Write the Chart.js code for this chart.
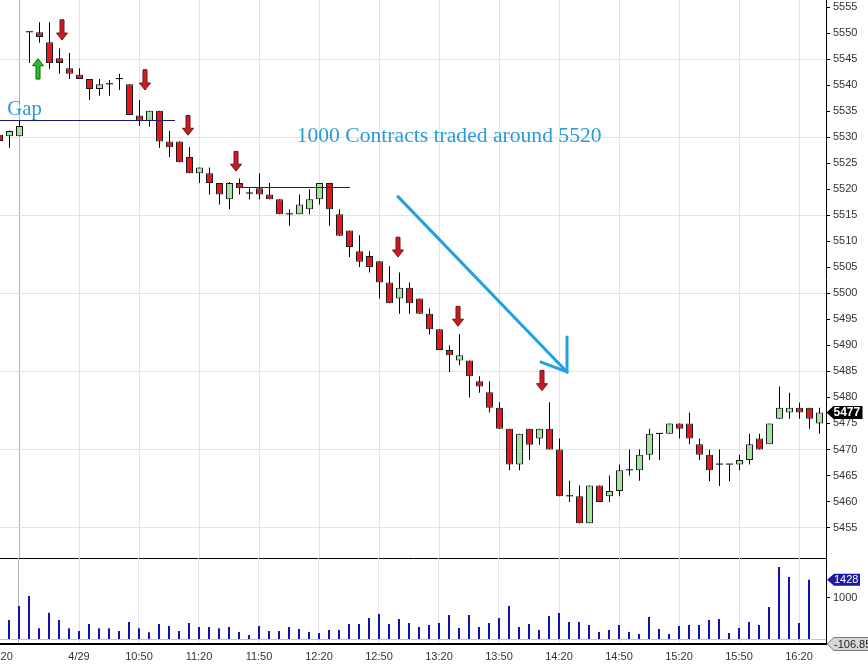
<!DOCTYPE html>
<html><head><meta charset="utf-8">
<script src="https://cdn.jsdelivr.net/npm/chart.js@4.4.1/dist/chart.umd.min.js"></script>
<style>
html,body{margin:0;padding:0;background:#fff;overflow:hidden;}
#wrap{position:relative;width:868px;height:665px;background:#fff;}
canvas{position:absolute;left:0;}
#pc{top:0;width:868px;height:560px;}
#vc{top:558px;width:868px;height:107px;}
</style></head><body>
<div id="wrap"><canvas id="pc" width="868" height="560"></canvas><canvas id="vc" width="868" height="107"></canvas></div>
<script>
// ---- 5-minute bars, index 0..82 ----
const opens  = [5530.5,5530.2,5530.2,5550.2,5550.2,5548.3,5545.2,5543.3,5542.1,5541.2,
                5539.3,5540.2,5541.2,5540.2,5534.2,5533.2,5535.1,5529.2,5529.2,5526.2,
                5523.1,5523.1,5521.2,5518.1,5521.2,5519.2,5520.2,5519.0,5518.1,5515.2,
                5515.2,5516.2,5518.1,5521.2,5515.2,5512.1,5508.1,5507.2,5506.2,5502.1,
                5499.0,5501.1,5499.0,5496.1,5493.1,5489.1,5487.1,5487.1,5483.1,5481.0,
                5478.0,5474.0,5467.1,5474.0,5472.1,5474.0,5470.0,5461.0,5461.0,5455.8,
                5463.1,5461.0,5462.0,5466.0,5466.0,5469.0,5473.0,5473.0,5475.0,5475.0,
                5471.0,5469.0,5467.1,5467.1,5467.1,5468.0,5472.1,5471.0,5475.9,5477.1,
                5478.0,5478.0,5475.0];
const highs  = [5531.0,5531.3,5533.3,5550.2,5552.1,5552.1,5547.1,5546.2,5543.3,5541.2,
                5541.2,5541.0,5542.2,5540.2,5537.2,5535.1,5535.1,5531.2,5529.2,5528.1,
                5524.2,5524.2,5521.2,5521.4,5522.1,5520.2,5523.1,5521.2,5518.1,5516.2,
                5519.0,5520.0,5521.2,5521.2,5516.2,5512.1,5511.2,5508.1,5506.2,5505.2,
                5504.0,5502.1,5499.0,5497.1,5493.1,5490.0,5492.2,5487.1,5484.1,5483.1,
                5479.1,5474.0,5473.0,5474.0,5474.0,5479.1,5472.1,5464.0,5463.1,5463.1,
                5463.1,5465.0,5467.1,5470.0,5470.0,5474.0,5473.0,5475.0,5475.0,5477.1,
                5472.1,5470.0,5470.0,5467.1,5469.0,5473.0,5473.0,5475.0,5482.1,5480.9,
                5479.0,5478.0,5478.0];
const lows   = [5528.8,5528.0,5530.2,5544.3,5548.2,5543.2,5542.2,5541.2,5541.2,5537.2,
                5538.0,5538.0,5539.1,5534.3,5532.2,5532.1,5528.0,5526.2,5525.2,5523.1,
                5521.2,5519.0,5517.1,5516.2,5519.0,5518.1,5518.1,5518.1,5515.2,5513.0,
                5515.2,5515.2,5517.1,5513.0,5511.1,5507.0,5505.1,5504.0,5499.0,5498.1,
                5496.1,5496.1,5496.1,5492.1,5489.1,5484.9,5486.2,5480.0,5480.9,5477.1,
                5474.0,5466.0,5466.0,5468.0,5470.9,5470.0,5461.0,5459.9,5455.8,5455.8,
                5459.9,5459.9,5461.0,5465.0,5464.0,5468.0,5468.0,5473.0,5472.1,5471.0,
                5468.0,5463.9,5463.0,5463.9,5466.0,5467.1,5470.0,5471.0,5475.9,5475.9,
                5475.9,5474.0,5473.0];
const closes = [5529.3,5531.2,5532.2,5550.2,5549.3,5544.3,5544.3,5542.2,5541.2,5539.3,
                5540.2,5540.2,5541.2,5534.3,5533.2,5535.1,5529.2,5528.1,5525.2,5523.1,
                5524.2,5521.2,5519.0,5521.2,5520.2,5519.2,5519.0,5518.1,5515.2,5515.2,
                5517.1,5518.1,5521.2,5516.2,5511.1,5508.9,5506.1,5505.1,5502.1,5498.1,
                5501.1,5498.1,5496.1,5493.1,5489.1,5488.1,5488.1,5484.1,5482.1,5478.0,
                5474.0,5467.1,5473.0,5470.9,5474.0,5470.0,5461.0,5461.0,5455.8,5463.1,
                5459.9,5462.0,5466.0,5466.0,5469.0,5473.0,5473.0,5475.0,5474.0,5472.1,
                5469.0,5466.0,5467.1,5467.1,5468.0,5471.0,5470.0,5475.0,5478.0,5478.0,
                5477.1,5475.9,5477.1];
const volumes = [null,466,801,1041,268,641,466,268,203,371,
                 268,268,203,419,268,172,371,323,203,395,
                 299,299,268,299,179,108,323,203,203,299,
                 251,179,155,227,227,371,371,514,610,371,
                 490,395,299,347,395,586,275,586,299,395,
                 514,801,299,371,227,562,634,419,419,347,
                 179,227,347,179,132,538,251,132,323,347,
                 347,466,490,155,275,419,347,777,1734,1495,
                 395,1428,null];

// ---- axes ----
const priceTicks = [5455,5460,5465,5470,5475,5480,5485,5490,5495,5500,5505,5510,5515,5520,5525,5530,5535,5540,5545,5550,5555];
const priceGridEvery = 15;
const PMIN = 5449.14, PMAX = 5556.4;
const VMIN = -106.85, VMAX = 1949;
const volTicks = [0, 1000];
const timeIdx    = [0, 8, 14, 20, 26, 32, 38, 44, 50, 56, 62, 68, 74, 80];
const timeLabels = ['16:20','4/29','10:50','11:20','11:50','12:20','12:50','13:20','13:50','14:20','14:50','15:20','15:50','16:20'];
const gridIdx = [2, 8, 14, 20, 26, 32, 38, 44, 50, 56, 62, 68, 74, 80];
const sessionBreak = 2;

// ---- annotations ----
const refLineFrom  = [0.05, 24.35];
const refLineTo    = [17.55, 35.05];
const refLinePrice = [5533.3, 5520.4];
const signalX    = [3.82, 6.22, 14.55, 18.82, 23.63, 39.82, 45.82, 54.22];
const signalTail = [5541.2, 5552.6, 5543.0, 5534.2, 5527.3, 5510.8, 5497.5, 5485.2];
const signalTip  = [5545.1, 5548.7, 5539.1, 5530.4, 5523.5, 5507.0, 5493.7, 5481.3];
const trendLine  = [[39.85, 5518.6], [56.75, 5484.9]];
const trendHead  = [[56.75, 5491.6], [54.15, 5486.8]];
const noteGap  = {text: 'Gap', x: 0.78, y: 5534.3};
const noteMain = {text: '1000 Contracts traded around 5520', x: 29.72, y: 5529.16};

const UP = '#a2e3a2', DN = '#e2181c';
const idx = opens.map((_, i) => i);
const isUp = i => closes[i] > opens[i];
const isDoji = i => closes[i] === opens[i];
const bodyData = idx.map(i => ({x: i, y: [opens[i], closes[i]]}));
const wickData = idx.map(i => ({x: i, y: [lows[i], highs[i]]}));
const volData = idx.filter(i => volumes[i] !== null).map(i => ({x: i, y: volumes[i]}));

const gridColorX = c => (c.tick && c.tick.value === sessionBreak) ? '#b4b4b4' : '#e3e3e3';
const AXFONT = {family: 'Liberation Sans, Arial, sans-serif', size: 11};

function tag(ctx, x, y, w, h, fill, stroke, text, color, font) {
  ctx.save();
  ctx.beginPath();
  ctx.moveTo(x, y);
  ctx.lineTo(x + 7, y - h / 2);
  ctx.lineTo(x + w, y - h / 2);
  ctx.lineTo(x + w, y + h / 2);
  ctx.lineTo(x + 7, y + h / 2);
  ctx.closePath();
  ctx.fillStyle = fill; ctx.fill();
  if (stroke) { ctx.strokeStyle = stroke; ctx.lineWidth = 1; ctx.stroke(); }
  ctx.fillStyle = color; ctx.font = font; ctx.textAlign = 'left'; ctx.textBaseline = 'middle';
  ctx.fillText(text, x + 7, y + 0.5);
  ctx.restore();
}

function blockArrow(ctx, cx, yTail, yTip, fill, stroke) {
  const d = Math.sign(yTip - yTail), hl = 7, sw = 2, hw = 5.5;
  const yNeck = yTip - d * hl;
  ctx.beginPath();
  ctx.moveTo(cx - sw, yTail); ctx.lineTo(cx + sw, yTail); ctx.lineTo(cx + sw, yNeck);
  ctx.lineTo(cx + hw, yNeck); ctx.lineTo(cx, yTip); ctx.lineTo(cx - hw, yNeck);
  ctx.lineTo(cx - sw, yNeck); ctx.closePath();
  ctx.fillStyle = fill; ctx.fill();
  ctx.strokeStyle = stroke; ctx.lineWidth = 1; ctx.stroke();
}

function fitSize(ctx, text, family, targetW) {
  ctx.font = '20px ' + family;
  return 20 * targetW / ctx.measureText(text).width;
}

const annPlugin = {
  id: 'ann',
  afterDatasetsDraw(chart) {
    const {ctx} = chart, xs = chart.scales.x, ys = chart.scales.y;
    const X = v => xs.getPixelForValue(v), Y = v => ys.getPixelForValue(v);
    ctx.save();
    // horizontal reference lines
    ctx.strokeStyle = '#1c1c78'; ctx.lineWidth = 1;
    refLinePrice.forEach((p, k) => {
      const yy = Math.round(Y(p)) + 0.5;
      ctx.beginPath(); ctx.moveTo(X(refLineFrom[k]), yy); ctx.lineTo(X(refLineTo[k]), yy); ctx.stroke();
    });
    // signal arrows
    signalX.forEach((sx, k) => {
      const up = signalTip[k] > signalTail[k];
      blockArrow(ctx, Math.round(X(sx)), Y(signalTail[k]), Y(signalTip[k]),
        up ? '#25c425' : '#c41d23', up ? '#0b5e0b' : '#7e0f12');
    });
    // blue trend arrow
    ctx.strokeStyle = '#20a2e2'; ctx.lineWidth = 3; ctx.lineCap = 'round';
    const tip = trendLine[1];
    ctx.beginPath(); ctx.moveTo(X(trendLine[0][0]), Y(trendLine[0][1])); ctx.lineTo(X(tip[0]), Y(tip[1])); ctx.stroke();
    trendHead.forEach(h => { ctx.beginPath(); ctx.moveTo(X(h[0]), Y(h[1])); ctx.lineTo(X(tip[0]), Y(tip[1])); ctx.stroke(); });
    // texts
    const fam = '"Liberation Serif", "DejaVu Serif", serif';
    ctx.fillStyle = '#2a9bd6'; ctx.textAlign = 'left'; ctx.textBaseline = 'alphabetic';
    let s = fitSize(ctx, noteGap.text, fam, 34.5);
    ctx.font = s.toFixed(2) + 'px ' + fam; ctx.fillText(noteGap.text, X(noteGap.x), Y(noteGap.y));
    s = fitSize(ctx, noteMain.text, fam, 305);
    ctx.font = s.toFixed(2) + 'px ' + fam; ctx.fillText(noteMain.text, X(noteMain.x), Y(noteMain.y));
    ctx.restore();
  },
  afterDraw(chart) {
    const ys = chart.scales.y, last = closes[closes.length - 1];
    tag(chart.ctx, ys.left + 0.5, ys.getPixelForValue(last), 36, 13, '#000', null,
        String(Math.round(last)), '#fff', 'bold 12px Liberation Sans, Arial, sans-serif');
  }
};

const volPlugin = {
  id: 'vol',
  afterDraw(chart) {
    const {ctx} = chart, xs = chart.scales.x, ys = chart.scales.y;
    ctx.save();
    ctx.fillStyle = '#333'; ctx.font = '11px Liberation Sans, Arial, sans-serif';
    ctx.textAlign = 'center'; ctx.textBaseline = 'middle';
    const ly = chart.chartArea.bottom + 12.7;
    timeIdx.forEach((t, k) => ctx.fillText(timeLabels[k], xs.getPixelForValue(t), ly));
    ctx.restore();
    const lastVol = volumes.filter(v => v !== null).slice(-1)[0];
    tag(ctx, ys.left + 1, ys.getPixelForValue(lastVol), 33, 12, '#1a1aa8', null,
        String(lastVol), '#fff', '11px Liberation Sans, Arial, sans-serif');
    tag(ctx, ys.left + 1, ys.getPixelForValue(VMIN), 46, 13, '#d8d8d8', '#7c7c7c',
        String(VMIN), '#222', '11px Liberation Sans, Arial, sans-serif');
  }
};

const baseOpts = {
  responsive: false, animation: false, events: [],
  devicePixelRatio: 1,
  layout: {padding: 0},
  plugins: {legend: {display: false}, tooltip: {enabled: false}}
};

new Chart(document.getElementById('pc'), {
  type: 'bar',
  data: {datasets: [
    {data: bodyData, grouped: false, maxBarThickness: 7, minBarLength: 1,
     backgroundColor: c => isDoji(c.dataIndex) ? '#000' : (isUp(c.dataIndex) ? UP : DN),
     borderColor: '#1b1b1b', borderWidth: c => isDoji(c.dataIndex) ? 0 : 1, borderSkipped: false},
    {data: wickData, grouped: false, maxBarThickness: 1, backgroundColor: '#000', borderWidth: 0}
  ]},
  options: Object.assign({}, baseOpts, {
    scales: {
      x: {type: 'linear', min: 0.05, max: 82.65, offset: false,
          afterBuildTicks: s => { s.ticks = gridIdx.map(v => ({value: v})); },
          afterFit: s => { s.height = 2; s.paddingLeft = 0; s.paddingRight = 0; },
          ticks: {display: false},
          grid: {offset: false, color: gridColorX, drawTicks: false},
          border: {display: true, color: '#000', width: 1}},
      y: {type: 'linear', position: 'right', min: PMIN, max: PMAX,
          afterBuildTicks: s => { s.ticks = priceTicks.map(v => ({value: v})); },
          afterFit: s => { s.width = 42; s.paddingTop = 0; s.paddingBottom = 0; },
          ticks: {color: '#333', font: AXFONT, padding: 3, callback: v => String(v)},
          grid: {color: c => ((c.tick.value - priceTicks[0]) % priceGridEvery === 0) ? '#e3e3e3' : 'rgba(0,0,0,0)',
                 tickColor: '#000', tickLength: 4},
          border: {color: '#000', width: 1}}
    }
  }),
  plugins: [annPlugin]
});

new Chart(document.getElementById('vc'), {
  type: 'bar',
  data: {datasets: [
    {data: volData, grouped: false, maxBarThickness: 2, backgroundColor: '#1212b0', borderWidth: 0}
  ]},
  options: Object.assign({}, baseOpts, {
    scales: {
      x: {type: 'linear', min: 0.1, max: 82.7, offset: false,
          afterBuildTicks: s => { s.ticks = gridIdx.map(v => ({value: v})); },
          afterFit: s => { s.height = 21; s.paddingLeft = 0; s.paddingRight = 0; },
          ticks: {display: false},
          grid: {offset: false, color: gridColorX, drawTicks: false},
          border: {display: true, color: '#000', width: 2}},
      y: {type: 'linear', position: 'right', min: VMIN, max: VMAX,
          afterBuildTicks: s => { s.ticks = volTicks.map(v => ({value: v})); },
          afterFit: s => { s.width = 42; s.paddingTop = 0; s.paddingBottom = 0; },
          ticks: {color: '#333', font: AXFONT, padding: 3, callback: v => v === 0 ? '' : String(v)},
          grid: {color: c => c.tick.value === 0 ? '#c4c4c4' : 'rgba(0,0,0,0)',
                 tickColor: c => c.tick.value === 0 ? 'rgba(0,0,0,0)' : '#000', tickLength: 4},
          border: {color: '#000', width: 1}}
    }
  }),
  plugins: [volPlugin]
});
</script>
</body></html>
